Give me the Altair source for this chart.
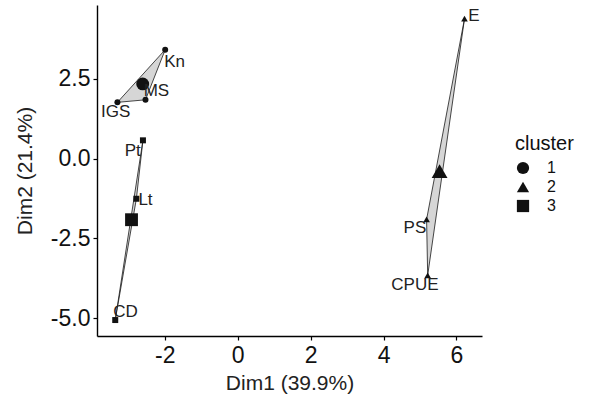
import altair as alt
import pandas as pd

# Individuals on the first two principal dimensions, with their k-means cluster
names = ["Kn", "MS", "IGS", "Pt", "Lt", "CD", "E", "PS", "CPUE"]
dim1 = [-1.99, -2.53, -3.30, -2.60, -2.78, -3.36, 6.22, 5.18, 5.21]
dim2 = [3.41, 1.84, 1.76, 0.57, -1.26, -5.06, 4.38, -1.91, -3.66]
cluster = ["1", "1", "1", "3", "3", "3", "2", "2", "2"]

# Repelled label placement, as offsets in data units
label_nudge_x = [0.26, 0.30, -0.05, -0.28, 0.25, 0.28, 0.26, -0.32, -0.35]
label_nudge_y = [-0.38, 0.29, -0.29, -0.32, -0.03, 0.25, 0.09, -0.28, -0.31]

# Convex hull vertex order per cluster (closed polygons)
hull_order = {
    "1": ["Kn", "MS", "IGS", "Kn"],
    "2": ["E", "PS", "CPUE", "E"],
    "3": ["Pt", "Lt", "CD", "Pt"],
}

FONT = "Liberation Sans"
INK = "#111111"

pts = pd.DataFrame({
    "name": names, "Dim1": dim1, "Dim2": dim2, "cluster": cluster,
})
pts["lx"] = pts["Dim1"] + pd.Series(label_nudge_x)
pts["ly"] = pts["Dim2"] + pd.Series(label_nudge_y)

lookup = pts.set_index("name")
hull_rows = []
for cl, verts in hull_order.items():
    for i, nm in enumerate(verts):
        hull_rows.append({"cluster": cl, "ord": i,
                          "Dim1": lookup.loc[nm, "Dim1"],
                          "Dim2": lookup.loc[nm, "Dim2"]})
hull = pd.DataFrame(hull_rows)

xscale = alt.Scale(domain=[-3.86, 6.70], nice=False, zero=False)
yscale = alt.Scale(domain=[-5.56, 4.81], nice=False, zero=False)
shape_scale = alt.Scale(domain=["1", "2", "3"],
                        range=["circle", "triangle-up", "square"])

# plain hyphen for negative tick labels
hyphen = "replace(datum.label, '\u2212', '-')"

x_enc = alt.X("Dim1:Q", scale=xscale, title="Dim1 (39.9%)",
              axis=alt.Axis(values=[-2, 0, 2, 4, 6], format="d",
                            labelExpr=hyphen))
y_enc = alt.Y("Dim2:Q", scale=yscale, title="Dim2 (21.4%)",
              axis=alt.Axis(values=[-5, -2.5, 0, 2.5], format=".1f",
                            labelExpr=hyphen))

shape_enc = alt.Shape("cluster:N", scale=shape_scale,
                      legend=alt.Legend(title="cluster"))

polys = alt.Chart(hull).mark_line(
    fill="#d6d6d6", stroke="#1a1a1a", strokeWidth=0.8
).encode(
    x=x_enc, y=y_enc, detail="cluster:N", order="ord:Q"
)

points = alt.Chart(pts).mark_point(
    filled=True, color=INK, opacity=1
).encode(
    x=x_enc, y=y_enc, shape=shape_enc,
    size=alt.condition(alt.datum.cluster == "2", alt.value(44), alt.value(36)),
)

centers = alt.Chart(pts).transform_aggregate(
    Dim1="mean(Dim1)", Dim2="mean(Dim2)", groupby=["cluster"]
).mark_point(
    filled=True, color=INK, opacity=1
).encode(
    x=x_enc, y=y_enc, shape=shape_enc,
    size=alt.condition(alt.datum.cluster == "2", alt.value(250), alt.value(165)),
)

labels = alt.Chart(pts).mark_text(
    font=FONT, fontSize=17, color="#222222"
).encode(
    x=alt.X("lx:Q", scale=xscale),
    y=alt.Y("ly:Q", scale=yscale),
    text="name:N",
)

chart = alt.layer(polys, points, centers, labels).properties(
    width=385, height=331,
    padding={"left": 97, "top": 5, "right": 107, "bottom": 66},
    autosize=alt.AutoSizeParams(type="none"),
).configure_view(
    stroke=None
).configure_axis(
    grid=False,
    domainColor="black", domainWidth=1.4,
    tickColor="black", tickWidth=1.2, tickSize=4,
    labelFont=FONT, labelFontSize=23, labelColor=INK,
    titleFont=FONT, titleFontSize=21, titleFontWeight="normal",
    titleColor="#222222",
).configure_axisX(
    labelPadding=4, titlePadding=5,
).configure_axisY(
    labelPadding=3, titlePadding=15,
).configure_legend(
    orient="none", legendX=418, legendY=129,
    titleFont=FONT, titleFontSize=20, titleFontWeight="normal",
    titleColor=INK, titlePadding=6,
    labelFont=FONT, labelFontSize=16, labelColor=INK,
    symbolSize=150, symbolFillColor=INK, symbolStrokeColor=INK,
    symbolType="circle", rowPadding=0, labelOffset=16,
)

chart.save("out.html", embed_options={"renderer": "svg", "actions": False})
